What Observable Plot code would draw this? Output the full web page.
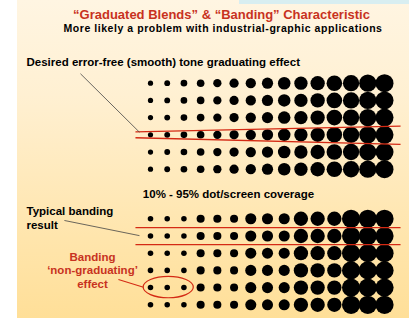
<!DOCTYPE html>
<html>
<head>
<meta charset="utf-8">
<script src="https://cdn.jsdelivr.net/npm/d3@7"></script>
<script src="https://cdn.jsdelivr.net/npm/@observablehq/plot@0.6"></script>
<style>
  html, body { margin: 0; padding: 0; background: #ffffff; }
  svg { display: block; }
</style>
</head>
<body>
<div id="chart"></div>
<script>
// ---- data ----
const columns = [1, 2, 3, 4, 5, 6, 7, 8, 9, 10, 11, 12, 13, 14, 15];
const smoothRows = [1, 2, 3, 4, 5, 6];
const bandedRows = [8.88, 9.88, 10.88, 11.88, 12.88, 13.88];
// dot/screen coverage (%) per column
const smoothCoverage = [8, 10, 13, 17, 20, 25, 31, 37, 46, 52, 60, 71, 78, 87, 95];
const bandedCoverage = [9, 9, 9, 19, 19, 19, 36, 36, 36, 60, 60, 60, 97, 97, 97];

const titleText = "\u201cGraduated Blends\u201d & \u201cBanding\u201d Characteristic";
const subtitleText = "More likely a problem with industrial-graphic applications";
const desiredLabel = "Desired error-free (smooth) tone graduating effect";
const coverageLabel = "10% - 95% dot/screen coverage";
const typicalLabel = "Typical banding\nresult";
const bandingLabel = "Banding\n\u2018non-graduating\u2019\neffect";

// highlight lines (column, row units)
const smoothHighlight = [
  {x1: 0.1, y1: 3.83, x2: 15.96, y2: 3.5},
  {x1: 0.1, y1: 4.17, x2: 15.96, y2: 4.56}
];
const bandedHighlight = [
  {x1: 0.1, y1: 9.4, x2: 15.96, y2: 9.4},
  {x1: 0.1, y1: 10.38, x2: 15.96, y2: 10.38}
];
const leaders = [
  {x1: -3.19, y1: 0.45, x2: 0.34, y2: 3.85},
  {x1: -4.15, y1: 8.98, x2: 0.34, y2: 9.86}
];
const redLeaders = [
  {x1: -0.92, y1: 12.41, x2: 0.58, y2: 12.86}
];
const ellipseCenter = {col: 2.09, row: 12.88, colRadius: 1.5, rowRadius: 0.62};

// ---- build dot tables ----
const smoothDots = smoothRows.flatMap(r => columns.map((c, i) => ({col: c, row: r, cov: smoothCoverage[i]})));
const bandedDots = bandedRows.flatMap(r => columns.map((c, i) => ({col: c, row: r, cov: bandedCoverage[i]})));

const RED = "#c8321e";
const LINE_RED = "#d42a14";
const FONT = "'Liberation Sans', Arial, Helvetica, sans-serif";

const ellipseMark = (index, scales) => {
  const x = scales.x, y = scales.y;
  const cx = x(ellipseCenter.col), cy = y(ellipseCenter.row);
  const rx = Math.abs(x(ellipseCenter.col + ellipseCenter.colRadius) - cx);
  const ry = Math.abs(y(ellipseCenter.row + ellipseCenter.rowRadius) - cy);
  const el = d3.create("svg:ellipse")
    .attr("cx", cx).attr("cy", cy).attr("rx", rx).attr("ry", ry)
    .attr("fill", "none").attr("stroke", LINE_RED).attr("stroke-width", 1.2);
  return el.node();
};

const chart = Plot.plot({
  width: 409,
  height: 318,
  margin: 0,
  x: {domain: [1, 15], range: [150, 384], axis: null},
  y: {domain: [1, 13.88], range: [82.7, 304.3], axis: null},
  r: {type: "sqrt", domain: [0, 95], range: [0, 9]},
  style: {
    fontFamily: FONT,
    background: "linear-gradient(#d8eef1, #d8eef1) 239px 0 / 170px 4px no-repeat, linear-gradient(to right, #ffffff 17px, transparent 17px), linear-gradient(#fff5e2, #fff0d2 30%, #ffe5ac 75%, #ffdf98)",
    overflow: "visible"
  },
  marks: [
    Plot.dot(smoothDots, {x: "col", y: "row", r: "cov", fill: "#000", stroke: "none"}),
    Plot.dot(bandedDots, {x: "col", y: "row", r: "cov", fill: "#000", stroke: "none"}),
    Plot.link(smoothHighlight, {x1: "x1", y1: "y1", x2: "x2", y2: "y2", stroke: LINE_RED, strokeWidth: 1.3}),
    Plot.link(bandedHighlight, {x1: "x1", y1: "y1", x2: "x2", y2: "y2", stroke: LINE_RED, strokeWidth: 1.3}),
    Plot.link(leaders, {x1: "x1", y1: "y1", x2: "x2", y2: "y2", stroke: "#444", strokeWidth: 0.8}),
    Plot.link(redLeaders, {x1: "x1", y1: "y1", x2: "x2", y2: "y2", stroke: LINE_RED, strokeWidth: 1.1}),
    ellipseMark,
    Plot.text([titleText], {frameAnchor: "top-left", dx: 221, dy: 9.1, textAnchor: "middle", lineAnchor: "top",
      fontSize: 13, fontWeight: "bold", fill: RED}),
    Plot.text([subtitleText], {frameAnchor: "top-left", dx: 222.5, dy: 24.2, textAnchor: "middle", lineAnchor: "top",
      fontSize: 10.5, fontWeight: "bold", fill: "#000"}),
    Plot.text([desiredLabel], {frameAnchor: "top-left", dx: 26, dy: 57.5, textAnchor: "start", lineAnchor: "top",
      fontSize: 11.5, fontWeight: "bold", fill: "#000"}),
    Plot.text([coverageLabel], {frameAnchor: "top-left", dx: 228, dy: 189.3, textAnchor: "middle", lineAnchor: "top",
      fontSize: 11.5, fontWeight: "bold", fill: "#000"}),
    Plot.text([typicalLabel], {frameAnchor: "top-left", dx: 26, dy: 205.1, textAnchor: "start", lineAnchor: "top",
      fontSize: 11.5, fontWeight: "bold", fill: "#000", lineHeight: 1.2}),
    Plot.text([bandingLabel], {frameAnchor: "top-left", dx: 92, dy: 250.3, textAnchor: "middle", lineAnchor: "top",
      fontSize: 11.5, fontWeight: "bold", fill: RED, lineHeight: 1.2})
  ]
});

// widen the subtitle's tracking to match the slide's lettering
d3.select(chart).selectAll("text")
  .filter(function() { return this.textContent === subtitleText; })
  .attr("letter-spacing", "0.55px");

document.getElementById("chart").appendChild(chart);
</script>
</body>
</html>
